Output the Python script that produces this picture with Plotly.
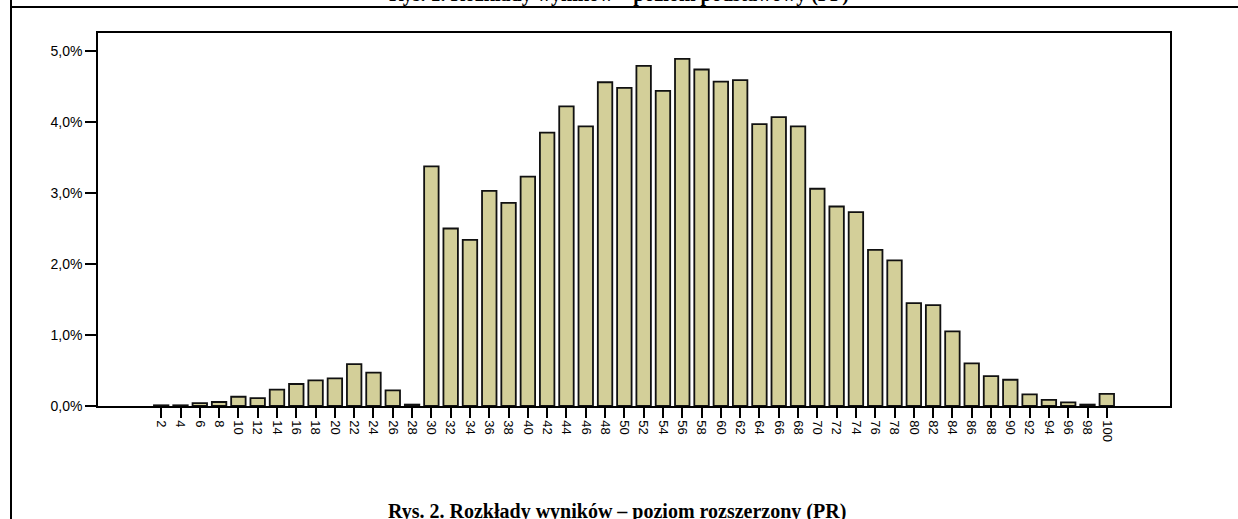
import plotly.graph_objects as go

# Data
scores = list(range(2, 101, 2))
percent = [0.01, 0.01, 0.04, 0.056, 0.13, 0.11, 0.23, 0.31, 0.36, 0.39,
           0.59, 0.47, 0.22, 0.02, 3.375, 2.50, 2.34, 3.03, 2.86, 3.23,
           3.85, 4.22, 3.94, 4.56, 4.48, 4.79, 4.44, 4.89, 4.74, 4.57,
           4.59, 3.97, 4.07, 3.94, 3.06, 2.81, 2.73, 2.20, 2.05, 1.45,
           1.42, 1.05, 0.60, 0.42, 0.37, 0.165, 0.085, 0.05, 0.02, 0.17]
y_ticks = [0, 1, 2, 3, 4, 5]
y_tick_text = [("%.1f%%" % v).replace(".", ",") for v in y_ticks]
title_top = "Rys. 1. Rozkłady wyników – poziom podstawowy (PP)"
title_bottom = "Rys. 2. Rozkłady wyników – poziom rozszerzony (PR)"

W, H = 1238, 519
L, R, T, B = 98, 68, 33, 113
pw, ph = W - L - R, H - T - B

def px_x(p):
    return (p - L) / pw

def px_y(p):
    return (H - B - p) / ph

fig = go.Figure()
fig.add_trace(go.Bar(
    x=scores, y=percent, width=1.5,
    marker=dict(color="#D3CF99", line=dict(color="#111111", width=1.8)),
    hoverinfo="x+y",
))

fig.update_layout(
    width=W, height=H,
    margin=dict(l=L, r=R, t=T, b=B, pad=0),
    paper_bgcolor="white", plot_bgcolor="white",
    showlegend=False,
    font=dict(family="Liberation Sans, Arial, sans-serif", size=13, color="black"),
)
fig.update_xaxes(
    range=[-4.55, 106.55], tickmode="array", tickvals=scores,
    ticktext=[str(s) for s in scores], tickangle=90,
    ticks="outside", ticklen=10, tickwidth=1.5, tickcolor="black",
    showline=True, linecolor="black", linewidth=1.5, mirror=True,
    showgrid=False, zeroline=False,
    tickfont=dict(size=13, family="Liberation Sans, Arial, sans-serif"),
)
fig.update_yaxes(
    range=[0, 5.254], tickmode="array", tickvals=y_ticks, ticktext=y_tick_text,
    ticks="outside", ticklen=11, tickwidth=1.5, tickcolor="black",
    showline=True, linecolor="black", linewidth=1.5, mirror=True,
    showgrid=False, zeroline=False,
    tickfont=dict(size=14, family="Liberation Sans, Arial, sans-serif"),
)

# outer page frame lines (left and top)
fig.add_shape(type="line", xref="paper", yref="paper",
              x0=px_x(11), x1=px_x(11), y0=px_y(-5), y1=px_y(530),
              line=dict(color="black", width=2))
fig.add_shape(type="line", xref="paper", yref="paper",
              x0=px_x(11), x1=px_x(1245), y0=px_y(7), y1=px_y(7),
              line=dict(color="black", width=2))

# titles
fig.add_annotation(text="<b>" + title_top + "</b>", xref="paper", yref="paper",
                   x=px_x(619), y=px_y(-5), xanchor="center", yanchor="middle",
                   showarrow=False,
                   font=dict(family="Liberation Serif, Times New Roman, serif", size=20, color="black"))
fig.add_annotation(text="<b>" + title_bottom + "</b>", xref="paper", yref="paper",
                   x=px_x(617), y=px_y(511), xanchor="center", yanchor="middle",
                   showarrow=False,
                   font=dict(family="Liberation Serif, Times New Roman, serif", size=20, color="black"))

fig.write_html("out.html",
               config={"displayModeBar": False},
               post_script="document.body.style.margin='0';document.body.style.padding='0';")
